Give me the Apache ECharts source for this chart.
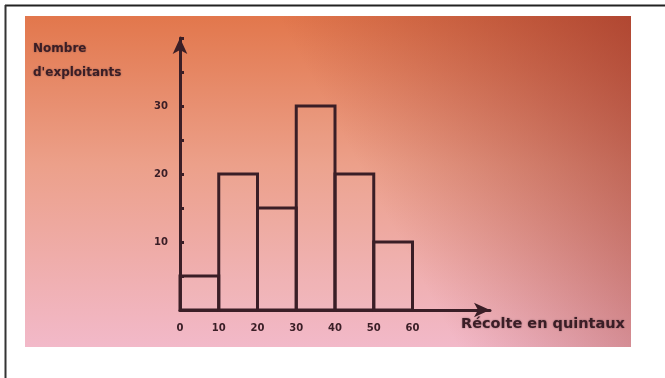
<!DOCTYPE html>
<html>
<head>
<meta charset="utf-8">
<script src="https://cdn.jsdelivr.net/npm/echarts@6/dist/echarts.min.js"></script>
<style>
  html, body { margin: 0; padding: 0; background: #fff; }
  #chart { width: 665px; height: 378px; }
</style>
</head>
<body>
<div id="chart"></div>
<script>
// classes de récolte (quintaux) et effectifs
const classStart = [0, 10, 20, 30, 40, 50]
const classEnd = [10, 20, 30, 40, 50, 60]
const exploitants = [5, 20, 15, 30, 20, 10]
const xTicks = [0, 10, 20, 30, 40, 50, 60]
const yTicks = [10, 20, 30]

const ink = '#3a1e26'
const chart = echarts.init(document.getElementById('chart'))

const bars = classStart.map((s, i) => [s, classEnd[i], exploitants[i]])

const option = {
  animation: false,
  backgroundColor: '#fff',
  grid: { left: 180, top: 38, width: 310, height: 272 },
  graphic: [
    // photo background
    {
      type: 'rect', z: -10, silent: true,
      shape: { x: 25, y: 16, width: 606, height: 331 },
      style: {
        fill: {
          type: 'linear', x: 0, y: 0, x2: 0, y2: 1,
          colorStops: [
            { offset: 0, color: '#e2774c' },
            { offset: 0.45, color: '#eca08a' },
            { offset: 1, color: '#f2b9c9' }
          ]
        }
      }
    },
    {
      type: 'rect', z: -9, silent: true,
      shape: { x: 25, y: 16, width: 606, height: 331 },
      style: {
        fill: {
          type: 'linear', x: 0, y: 1, x2: 1, y2: 0,
          colorStops: [
            { offset: 0, color: 'rgba(255,200,220,0)' },
            { offset: 0.55, color: 'rgba(150,50,40,0)' },
            { offset: 1, color: 'rgba(150,45,35,0.65)' }
          ]
        }
      }
    },
    // frame of the page
    { type: 'line', silent: true, shape: { x1: 5, y1: 5.5, x2: 665, y2: 5.5 }, style: { stroke: '#222', lineWidth: 2 } },
    { type: 'line', silent: true, shape: { x1: 5.5, y1: 5, x2: 5.5, y2: 378 }, style: { stroke: '#333', lineWidth: 2 } },
    // axis titles
    {
      type: 'text', left: 33, top: 37,
      style: {
        text: 'Nombre\nd\'exploitants', fill: ink, lineHeight: 24,
        font: 'bold 12px "DejaVu Sans"', textShadowColor: 'rgba(58,30,38,0.5)', textShadowBlur: 2
      }
    },
    {
      type: 'text', left: 461, top: 317,
      style: {
        text: 'Récolte en quintaux', fill: ink,
        font: 'bold 14.5px "DejaVu Sans"', textShadowColor: 'rgba(58,30,38,0.5)', textShadowBlur: 2
      }
    }
  ],
  xAxis: {
    type: 'value', min: 0, max: 80, interval: 10,
    axisLine: { show: true, lineStyle: { color: ink, width: 3 }, symbol: ['none', 'arrow'], symbolSize: [11, 16] },
    axisTick: { show: false },
    splitLine: { show: false },
    axisLabel: {
      color: ink, fontWeight: 'bold', fontSize: 10, fontFamily: 'DejaVu Sans', margin: 13,
      formatter: v => (xTicks.includes(v) ? String(v) : '')
    }
  },
  yAxis: {
    type: 'value', min: 0, max: 40, interval: 10,
    axisLine: { show: true, lineStyle: { color: ink, width: 3 }, symbol: ['none', 'arrow'], symbolSize: [11, 16] },
    axisTick: { show: true, inside: true, length: 4, lineStyle: { color: ink, width: 3 } },
    minorTick: { show: true, splitNumber: 2, length: 4, lineStyle: { color: ink, width: 3 } },
    splitLine: { show: false },
    axisLabel: {
      color: ink, fontWeight: 'bold', fontSize: 10, fontFamily: 'DejaVu Sans', margin: 12,
      formatter: v => (yTicks.includes(v) ? String(v) : '')
    }
  },
  series: [{
    type: 'custom',
    data: bars,
    encode: { x: [0, 1], y: 2 },
    renderItem: (params, api) => {
      const p0 = api.coord([api.value(0), 0])
      const p1 = api.coord([api.value(1), api.value(2)])
      return {
        type: 'rect',
        shape: { x: p0[0], y: p1[1], width: p1[0] - p0[0], height: p0[1] - p1[1] },
        style: { fill: 'rgba(255,255,255,0.04)', stroke: ink, lineWidth: 3 }
      }
    }
  }]
}

chart.setOption(option)
</script>
</body>
</html>
